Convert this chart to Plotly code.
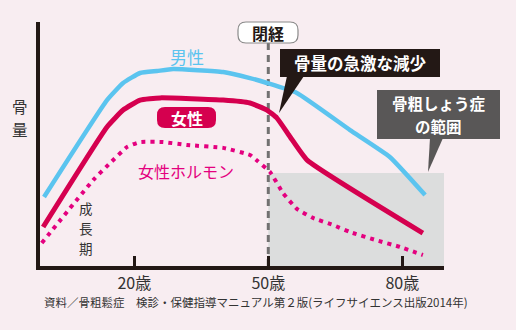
import plotly.graph_objects as go

# ---- data (age in years, bone mass / hormone level in arbitrary units 0-100) ----
male_age = [-0.2, 13.9, 17.5, 21.3, 25.1, 28.7, 39.9, 45.9, 49.7, 56.4, 68.3, 77.2, 85.1]
male_val = [28.3, 68.0, 75.0, 79.1, 79.9, 80.7, 79.5, 77.0, 75.0, 70.9, 55.7, 44.7, 29.1]

female_age = [-0.4, 13.9, 17.5, 21.3, 25.8, 39.9, 45.9, 49.7, 51.9, 54.9, 58.7, 84.6]
female_val = [16.0, 57.0, 63.9, 68.0, 68.9, 68.0, 66.8, 63.9, 60.7, 52.9, 43.4, 13.5]

hormone_age = [-0.7, 10.8, 14.6, 18.4, 21.3, 26.4, 31.8, 39.9, 45.9, 47.6, 50.4, 53.3, 56.4, 60.0, 64.5, 68.3, 74.3, 79.5, 84.6]
hormone_val = [9.4, 35.2, 42.2, 48.8, 50.8, 50.8, 49.6, 48.4, 45.5, 43.0, 38.5, 29.9, 23.4, 19.7, 16.8, 13.9, 10.5, 7.8, 4.5]

tick_ages = [20, 50, 80]
tick_labels = ["20歳", "50歳", "80歳"]

menopause_age = 50
osteo_level = 38.1       # upper edge of the osteoporosis zone
x_range = [-1.1, 89.33]
y_range = [0, 100]

FONT = "Noto Sans CJK JP"
BLUE = "#5bc4ef"
CRIMSON = "#d5004f"
MAGENTA = "#e4007f"
DARK = "#231815"

W, H = 516, 330
L, R, T, B = 40, 72, 22, 64
PW, PH = W - L - R, H - T - B


def P(px, py):
    """pixel -> paper coordinates (for layout decorations)"""
    return (px - L) / PW, (H - B - py) / PH


def rrect(x0, y0, x1, y1, r):
    def p(x, y):
        a, b = P(x, y)
        return f"{a},{b}"
    return (f"M {p(x0 + r, y0)} L {p(x1 - r, y0)} Q {p(x1, y0)} {p(x1, y0 + r)} "
            f"L {p(x1, y1 - r)} Q {p(x1, y1)} {p(x1 - r, y1)} L {p(x0 + r, y1)} "
            f"Q {p(x0, y1)} {p(x0, y1 - r)} L {p(x0, y0 + r)} Q {p(x0, y0)} {p(x0 + r, y0)} Z")


def tri(a, b, c):
    pa, pb, pc = P(*a), P(*b), P(*c)
    return f"M {pa[0]},{pa[1]} L {pb[0]},{pb[1]} L {pc[0]},{pc[1]} Z"


fig = go.Figure()

fig.add_trace(go.Scatter(x=male_age, y=male_val, mode="lines",
                         line=dict(color=BLUE, width=4.5, shape="spline", smoothing=0.4),
                         hoverinfo="skip"))
fig.add_trace(go.Scatter(x=female_age, y=female_val, mode="lines",
                         line=dict(color=CRIMSON, width=5, shape="spline", smoothing=0.4),
                         hoverinfo="skip"))
fig.add_trace(go.Scatter(x=hormone_age, y=hormone_val, mode="lines",
                         line=dict(color=MAGENTA, width=4, shape="spline", smoothing=0.4,
                                   dash="4px,5px"),
                         hoverinfo="skip"))

shapes = []
shapes.append(dict(type="rect", xref="x", yref="y", x0=menopause_age, x1=x_range[1],
                   y0=0, y1=osteo_level, fillcolor="#dcdddd", line=dict(width=0), layer="below"))
shapes.append(dict(type="line", xref="x", yref="y", x0=menopause_age, x1=menopause_age,
                   y0=0, y1=91.8, line=dict(color="#727171", width=3, dash="7px,5px"), layer="below"))
shapes.append(dict(type="path", xref="paper", yref="paper", path=rrect(238, 22, 298, 43, 8),
                   fillcolor="white", line=dict(color="#8a8a8a", width=1.2)))
shapes.append(dict(type="path", xref="paper", yref="paper", path=rrect(157, 107, 216, 128, 8),
                   fillcolor=CRIMSON, line=dict(width=0)))
shapes.append(dict(type="rect", xref="paper", yref="paper",
                   x0=P(280, 0)[0], x1=P(440, 0)[0], y0=P(0, 77)[1], y1=P(0, 49)[1],
                   fillcolor=DARK, line=dict(width=0)))
shapes.append(dict(type="path", xref="paper", yref="paper",
                   path=tri((287, 76), (304, 76), (279, 113)), fillcolor=DARK, line=dict(width=0)))
shapes.append(dict(type="rect", xref="paper", yref="paper",
                   x0=P(377, 0)[0], x1=P(500, 0)[0], y0=P(0, 139)[1], y1=P(0, 90)[1],
                   fillcolor="#595757", line=dict(width=0)))
shapes.append(dict(type="path", xref="paper", yref="paper",
                   path=tri((430, 138), (443, 138), (428, 172)), fillcolor="#595757", line=dict(width=0)))

ann = []
def text(px, py, s, size, color, bold=False):
    x, y = P(px, py)
    if bold:
        s = f"<b>{s}</b>"
    ann.append(dict(x=x, y=y, xref="paper", yref="paper", text=s, showarrow=False,
                    font=dict(family=FONT, size=size, color=color),
                    borderpad=0, borderwidth=0,
                    xanchor="center", yanchor="middle"))

text(187, 56, "男性", 17, BLUE)
text(186.5, 117.5, "女性", 16, "white", bold=True)
text(186, 171, "女性ホルモン", 16, MAGENTA)
text(268, 32.5, "閉経", 16, DARK, bold=True)
text(360, 63, "骨量の急激な減少", 16.5, "white", bold=True)
text(438.5, 103, "骨粗しょう症", 15.5, "white", bold=True)
text(438.5, 126, "の範囲", 15.5, "white", bold=True)
text(20, 106, "骨", 15.5, "#333333")
text(20, 129, "量", 15.5, "#333333")
text(86, 208, "成", 13.5, "#333333")
text(86, 228, "長", 13.5, "#333333")
text(86, 248, "期", 13.5, "#333333")
text(256, 302, "資料／骨粗鬆症　検診・保健指導マニュアル第２版(ライフサイエンス出版2014年)", 11.5, "#333333")

fig.update_layout(
    width=W, height=H,
    margin=dict(l=L, r=R, t=T, b=B, pad=0),
    paper_bgcolor="#f8edf1", plot_bgcolor="rgba(0,0,0,0)",
    showlegend=False,
    shapes=shapes, annotations=ann,
    font=dict(family=FONT, color=DARK),
    xaxis=dict(range=x_range, showgrid=False, zeroline=False, showline=True,
               linecolor=DARK, linewidth=3.5, ticks="inside", ticklen=10, tickwidth=3,
               tickcolor=DARK, tickvals=tick_ages, ticktext=tick_labels,
               tickfont=dict(family=FONT, size=16, color="#333333"), fixedrange=True),
    yaxis=dict(range=y_range, showgrid=False, zeroline=False, showline=True,
               linecolor=DARK, linewidth=3.5, showticklabels=False, ticks="", fixedrange=True),
)

fig.write_html("out.html", config={"displayModeBar": False})
